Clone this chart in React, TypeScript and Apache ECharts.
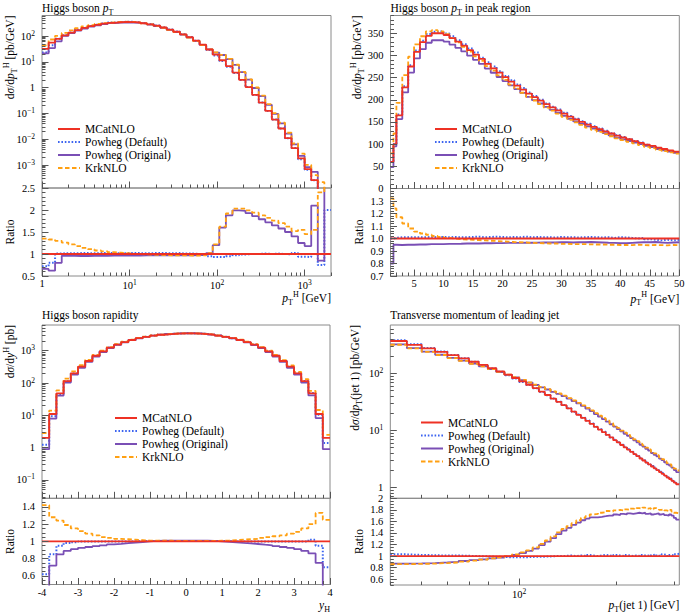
import React, { useEffect, useRef } from "react";
import * as echarts from "echarts";

const FONT = "'Liberation Serif', 'Times New Roman', serif";

// ---------- series identity ----------
const SERIES_NAMES = ["MCatNLO", "Powheg (Default)", "Powheg (Original)", "KrkNLO"];
const SERIES_COLORS = ["#ee3124", "#3c64f0", "#7a4fb5", "#ffa012"];

// ---------- Panel 1 : Higgs boson pT (log x) ----------
const P1_EDGES = [1, 1.19, 1.41, 1.68, 2, 2.37, 2.82, 3.35, 3.98, 4.73, 5.62, 6.68, 7.94, 9.44, 11.2, 13.3, 15.8, 18.8, 22.4, 26.6, 31.6, 37.6, 44.7, 53.1, 63.1, 75, 89.1, 106, 126, 150, 178, 211, 251, 299, 355, 422, 501, 596, 708, 841, 1000, 1189, 1413, 1679, 2000];
const P1_MCATNLO = [32, 55, 78, 105, 135, 170, 205, 240, 270, 300, 325, 342, 350, 346, 334, 312, 285, 252, 214, 178, 146, 116, 90, 66, 46, 30, 19, 11.5, 6.8, 3.8, 2.0, 1.05, 0.52, 0.26, 0.125, 0.058, 0.026, 0.011, 0.0045, 0.0018, 0.0007, 0.00026, 0.00009, 0.00003];
const P1_RATIO_DEFAULT = [0.72, 0.8, 1.01, 1.02, 1.015, 1.02, 1.02, 1.015, 1.02, 1.02, 1.02, 1.015, 1.02, 1.02, 1.02, 1.015, 1.02, 1.02, 1.02, 1.015, 1.02, 1.01, 1.01, 1.0, 0.98, 0.95, 0.93, 0.93, 0.95, 0.97, 0.99, 1.0, 1.0, 1.01, 1.0, 1.01, 1.0, 0.99, 1.02, 0.94, 0.93, 1.0, 0.75, 2.0];
const P1_RATIO_ORIGINAL = [0.66, 0.62, 0.8, 0.96, 0.96, 0.955, 0.955, 0.96, 0.96, 0.96, 0.965, 0.965, 0.965, 0.965, 0.965, 0.97, 0.97, 0.97, 0.97, 0.97, 0.97, 0.97, 0.97, 0.975, 0.98, 1.02, 1.2, 1.6, 1.88, 1.99, 1.98, 1.93, 1.86, 1.79, 1.72, 1.65, 1.58, 1.5, 1.4, 1.25, 1.18, 2.1, 0.85, 2.6];
const P1_RATIO_KRKNLO = [1.35, 1.33, 1.3, 1.26, 1.22, 1.18, 1.14, 1.11, 1.08, 1.06, 1.04, 1.03, 1.02, 1.01, 1.0, 0.99, 0.985, 0.98, 0.975, 0.97, 0.97, 0.97, 0.965, 0.965, 0.97, 1.02, 1.22, 1.62, 1.92, 2.03, 2.03, 1.99, 1.94, 1.88, 1.82, 1.76, 1.7, 1.62, 1.52, 1.55, 1.45, 1.55, 2.4, 2.6];
const P1_X_TICKS = [1, 10, 100, 1000];
const P1_Y_TICKS = [0.001, 0.01, 0.1, 1, 10, 100];
const P1_R_TICKS = [0.5, 1, 1.5, 2, 2.5];

// ---------- Panel 2 : Higgs boson pT, peak region ----------
const P2_EDGES = [1, 1.5, 2, 3, 4, 5, 6, 7, 8, 9, 10, 11, 12, 13, 14, 15, 16, 17, 18, 19, 20, 21, 22, 23, 24, 25, 26, 27, 28, 29, 30, 31, 32, 33, 34, 35, 36, 37, 38, 39, 40, 41, 42, 43, 44, 45, 46, 47, 48, 49, 50];
const P2_MCATNLO = [60, 100, 165, 228, 275, 308, 330, 344, 350, 350, 346, 339, 331, 322, 312, 302, 292, 281, 271, 261, 251, 241, 232, 223, 214, 206, 198, 190, 183, 176, 169, 162, 156, 150, 144, 139, 134, 129, 124, 119, 115, 111, 107, 103, 99, 96, 92, 89, 86, 83];
const P2_RATIO_DEFAULT = [1.0, 1.005, 1.01, 1.01, 1.01, 1.01, 1.01, 1.012, 1.01, 1.012, 1.01, 1.012, 1.01, 1.01, 1.012, 1.015, 1.01, 1.012, 1.015, 1.012, 1.01, 1.012, 1.01, 1.015, 1.01, 1.012, 1.01, 1.01, 1.008, 1.012, 1.01, 1.01, 1.008, 1.01, 1.012, 1.01, 1.008, 1.01, 1.005, 1.01, 1.008, 1.005, 1.0, 1.005, 0.995, 0.99, 0.985, 0.99, 0.985, 0.99];
const P2_RATIO_ORIGINAL = [0.8, 0.95, 0.948, 0.95, 0.95, 0.952, 0.952, 0.955, 0.955, 0.955, 0.957, 0.957, 0.958, 0.96, 0.96, 0.96, 0.962, 0.962, 0.963, 0.963, 0.965, 0.965, 0.965, 0.966, 0.966, 0.967, 0.968, 0.968, 0.968, 0.97, 0.97, 0.968, 0.97, 0.97, 0.972, 0.97, 0.968, 0.966, 0.965, 0.963, 0.962, 0.965, 0.968, 0.97, 0.97, 0.972, 0.968, 0.965, 0.968, 0.97];
const P2_RATIO_KRKNLO = [1.32, 1.24, 1.17, 1.12, 1.08, 1.055, 1.04, 1.03, 1.02, 1.012, 1.005, 1.0, 0.995, 0.992, 0.99, 0.987, 0.985, 0.982, 0.98, 0.977, 0.975, 0.972, 0.97, 0.968, 0.965, 0.963, 0.962, 0.96, 0.96, 0.958, 0.957, 0.956, 0.955, 0.955, 0.953, 0.952, 0.952, 0.95, 0.95, 0.948, 0.948, 0.947, 0.95, 0.948, 0.946, 0.948, 0.947, 0.945, 0.948, 0.946];
const P2_X_TICKS = [5, 10, 15, 20, 25, 30, 35, 40, 45, 50];
const P2_Y_TICKS = [0, 50, 100, 150, 200, 250, 300, 350];
const P2_R_TICKS = [0.7, 0.8, 0.9, 1.0, 1.1, 1.2, 1.3];

// ---------- Panel 3 : Higgs boson rapidity ----------
const P3_EDGES = [-4, -3.8, -3.6, -3.4, -3.2, -3, -2.8, -2.6, -2.4, -2.2, -2, -1.8, -1.6, -1.4, -1.2, -1, -0.8, -0.6, -0.4, -0.2, 0, 0.2, 0.4, 0.6, 0.8, 1, 1.2, 1.4, 1.6, 1.8, 2, 2.2, 2.4, 2.6, 2.8, 3, 3.2, 3.4, 3.6, 3.8, 4];
const P3_MCATNLO = [2.0, 11, 48, 115, 200, 320, 480, 700, 950, 1250, 1550, 1850, 2150, 2450, 2700, 2930, 3120, 3280, 3390, 3440, 3440, 3390, 3280, 3120, 2930, 2700, 2450, 2150, 1850, 1550, 1250, 950, 700, 480, 320, 200, 115, 48, 11, 2.0];
const P3_RATIO_DEFAULT = [0.62, 0.85, 0.95, 0.98, 0.99, 1.0, 1.0, 1.0, 1.0, 1.0, 1.0, 1.0, 1.0, 1.005, 1.005, 1.005, 1.005, 1.005, 1.005, 1.005, 1.005, 1.005, 1.005, 1.005, 1.005, 1.005, 1.0, 1.0, 1.0, 1.0, 1.0, 1.0, 1.0, 1.0, 1.0, 1.0, 1.0, 1.02, 0.95, 0.7];
const P3_RATIO_ORIGINAL = [0.45, 0.72, 0.85, 0.89, 0.91, 0.925, 0.935, 0.945, 0.955, 0.965, 0.972, 0.98, 0.987, 0.993, 1.0, 1.005, 1.008, 1.01, 1.01, 1.01, 1.01, 1.01, 1.008, 1.005, 1.0, 0.995, 0.99, 0.983, 0.977, 0.97, 0.962, 0.955, 0.945, 0.935, 0.925, 0.91, 0.89, 0.86, 0.75, 0.45];
const P3_RATIO_KRKNLO = [1.42, 1.28, 1.24, 1.19, 1.15, 1.12, 1.09, 1.07, 1.05, 1.04, 1.03, 1.025, 1.02, 1.015, 1.01, 1.01, 1.01, 1.008, 1.005, 1.005, 1.005, 1.005, 1.005, 1.005, 1.008, 1.01, 1.015, 1.02, 1.025, 1.03, 1.04, 1.05, 1.06, 1.07, 1.09, 1.11, 1.15, 1.2, 1.33, 1.25];
const P3_X_TICKS = [-4, -3, -2, -1, 0, 1, 2, 3, 4];
const P3_Y_TICKS = [0.1, 1, 10, 100, 1000];
const P3_R_TICKS = [0.6, 0.8, 1, 1.2, 1.4];

// ---------- Panel 4 : leading jet pT (log x) ----------
const P4_EDGES = [40, 45, 50, 55, 60, 65, 70, 75, 80, 85, 90, 95, 100, 105, 110, 115, 120, 125, 130, 135, 140, 145, 150, 155, 160, 165, 170, 175, 180, 185, 190, 195, 200, 205, 210, 215, 220, 225, 230, 235, 240, 245, 250, 255, 260, 265, 270, 275, 280, 285, 290, 295, 300, 305, 312];
const P4_MCATNLO = [367, 314, 272, 237, 207, 182, 159, 140, 123, 108, 94.4, 82.7, 72.1, 63.1, 55.2, 47.7, 41.7, 36.1, 31.7, 27.7, 24.3, 21.3, 18.8, 16.6, 14.7, 13.1, 11.6, 10.4, 9.35, 8.38, 7.57, 6.78, 6.18, 5.58, 5.09, 4.65, 4.24, 3.86, 3.56, 3.24, 2.99, 2.75, 2.55, 2.35, 2.18, 2.03, 1.88, 1.75, 1.63, 1.51, 1.42, 1.32, 1.23, 1.15];
const P4_RATIO_DEFAULT = [1.03, 1.02, 1.015, 1.01, 1.01, 1.005, 1.0, 0.995, 0.99, 0.985, 0.98, 0.98, 0.98, 0.985, 0.99, 0.99, 0.995, 1.0, 1.0, 1.005, 1.01, 1.0, 1.01, 1.005, 1.02, 1.01, 1.0, 1.01, 1.02, 1.01, 1.0, 1.02, 1.01, 1.005, 1.02, 1.01, 1.0, 1.01, 1.005, 1.02, 1.01, 1.01, 1.0, 1.02, 1.03, 1.005, 1.01, 1.03, 1.02, 1.0, 1.02, 1.01, 1.03, 1.04];
const P4_RATIO_ORIGINAL = [0.87, 0.875, 0.88, 0.89, 0.9, 0.915, 0.93, 0.945, 0.96, 0.975, 0.995, 1.02, 1.05, 1.09, 1.13, 1.19, 1.25, 1.31, 1.38, 1.44, 1.49, 1.54, 1.58, 1.62, 1.65, 1.67, 1.67, 1.68, 1.69, 1.7, 1.7, 1.72, 1.71, 1.73, 1.72, 1.74, 1.73, 1.74, 1.75, 1.74, 1.75, 1.73, 1.74, 1.72, 1.73, 1.74, 1.72, 1.73, 1.71, 1.7, 1.72, 1.7, 1.66, 1.63];
const P4_RATIO_KRKNLO = [0.86, 0.865, 0.87, 0.88, 0.89, 0.905, 0.92, 0.94, 0.96, 0.98, 1.0, 1.03, 1.065, 1.1, 1.15, 1.21, 1.27, 1.34, 1.41, 1.47, 1.52, 1.57, 1.62, 1.66, 1.69, 1.72, 1.73, 1.75, 1.76, 1.78, 1.77, 1.79, 1.8, 1.79, 1.81, 1.8, 1.82, 1.81, 1.83, 1.82, 1.84, 1.82, 1.83, 1.81, 1.83, 1.82, 1.8, 1.81, 1.79, 1.78, 1.8, 1.77, 1.75, 1.74];
const P4_X_TICKS = [100];
const P4_Y_TICKS = [1, 10, 100];
const P4_R_TICKS = [0.6, 0.8, 1, 1.2, 1.4, 1.6, 1.8, 2];

// ---------- helpers ----------
const TICK_COLOR = "#555";
const FRAME_COLOR = "#8a8a8a";
const lg = (v: number) => Math.log10(v);

function logMinors(lo: number, hi: number) {
  const out: number[] = [];
  for (let n = Math.floor(lo) - 1; n <= Math.ceil(hi); n++) {
    for (let k = 2; k <= 9; k++) {
      const v = n + Math.log10(k);
      if (v >= lo - 1e-9 && v <= hi + 1e-9) out.push(v);
    }
  }
  return out;
}
function linMinors(lo: number, hi: number, step: number) {
  const out: number[] = [];
  const k0 = Math.ceil(lo / step - 1e-9);
  for (let k = k0; k * step <= hi + 1e-9; k++) out.push(+(k * step).toFixed(6));
  return out;
}
const supNum = (n: number) => (n < 0 ? "\u2212" + -n : String(n));
const logFmt = (v: number) => {
  const n = Math.round(v);
  if (n === 0) return "1";
  return `{m|10}{e|${supNum(n)}}`;
};
const LABEL_RICH = {
  m: { fontFamily: FONT, fontSize: 10.5, lineHeight: 14, color: "#000" },
  e: { fontFamily: FONT, fontSize: 7.5, lineHeight: 8, verticalAlign: "top", color: "#000" },
};

function stepData(edges: number[], vals: number[], fx: (v: number) => number, fy: (v: number) => number) {
  const out = vals.map((v, i) => [fx(edges[i]), fy(v)]);
  out.push([fx(edges[edges.length - 1]), fy(vals[vals.length - 1])]);
  return out;
}

const PANELS = [
  {
    edges: P1_EDGES, ref: P1_MCATNLO, ratios: [P1_RATIO_DEFAULT, P1_RATIO_ORIGINAL, P1_RATIO_KRKNLO],
    xLog: true, yLog: true,
    box: { left: 42, right: 331, top: 15.5, mid: 188, bottom: 276 },
    x: [lg(1), lg(2000)], y: [-3.89, 2.795], r: [0.5, 2.5],
    xTicks: P1_X_TICKS, yTicks: P1_Y_TICKS, rTicks: P1_R_TICKS,
    xStep: 0, yStep: 0, rStep: 0.1,
    xFmt: logFmt, yFmt: logFmt, rFmt: (v: number) => String(+v.toFixed(2)),
    legend: { left: 57, top: 122.5 },
  },
  {
    edges: P2_EDGES, ref: P2_MCATNLO, ratios: [P2_RATIO_DEFAULT, P2_RATIO_ORIGINAL, P2_RATIO_KRKNLO],
    xLog: false, yLog: false,
    box: { left: 390.5, right: 679.3, top: 15.5, mid: 188.5, bottom: 276 },
    x: [1, 50], y: [0, 390], r: [0.7, 1.4],
    xTicks: P2_X_TICKS, yTicks: P2_Y_TICKS, rTicks: P2_R_TICKS,
    xStep: 1, yStep: 10, rStep: 0.02,
    xFmt: (v: number) => String(v), yFmt: (v: number) => String(v), rFmt: (v: number) => v.toFixed(1),
    legend: { left: 434, top: 122.5 },
  },
  {
    edges: P3_EDGES, ref: P3_MCATNLO, ratios: [P3_RATIO_DEFAULT, P3_RATIO_ORIGINAL, P3_RATIO_KRKNLO],
    xLog: false, yLog: true,
    box: { left: 42, right: 330, top: 325, mid: 498.3, bottom: 584.5 },
    x: [-4, 4], y: [-1.567, 3.796], r: [0.5, 1.5],
    xTicks: P3_X_TICKS, yTicks: P3_Y_TICKS, rTicks: P3_R_TICKS,
    xStep: 0.2, yStep: 0, rStep: 0.05,
    xFmt: (v: number) => String(Math.round(v)), yFmt: logFmt, rFmt: (v: number) => String(+v.toFixed(2)),
    legend: { left: 114, top: 411.5 },
  },
  {
    edges: P4_EDGES, ref: P4_MCATNLO, ratios: [P4_RATIO_DEFAULT, P4_RATIO_ORIGINAL, P4_RATIO_KRKNLO],
    xLog: true, yLog: true,
    box: { left: 390.3, right: 679.3, top: 325, mid: 498.3, bottom: 585 },
    x: [lg(40), lg(312)], y: [-0.185, 2.844], r: [0.5, 2.0],
    xTicks: P4_X_TICKS, yTicks: P4_Y_TICKS, rTicks: P4_R_TICKS,
    xStep: 0, yStep: 0, rStep: 0.05,
    xFmt: logFmt, yFmt: logFmt, rFmt: (v: number) => String(+v.toFixed(2)),
    legend: { left: 420, top: 416 },
  },
];

function addAxis(list: any[], gridIndex: number, dim: "x" | "y", range: number[], major: number[], minor: number[], fmt: any) {
  const common = {
    type: "value", gridIndex, min: range[0], max: range[1],
    position: dim === "x" ? "bottom" : "left", offset: 0,
    axisLine: { show: false, onZero: false },
    splitLine: { show: false }, minorTick: { show: false }, minorSplitLine: { show: false },
    silent: true, z: 5,
  };
  const idx = list.length;
  list.push({
    ...common,
    axisTick: { show: true, inside: true, length: 6.5, customValues: major, lineStyle: { color: TICK_COLOR, width: 1 } },
    axisLabel: fmt
      ? { show: true, customValues: major, formatter: fmt, margin: dim === "x" ? 2 : 7, fontFamily: FONT, fontSize: 10.5, color: "#000", rich: LABEL_RICH }
      : { show: false },
  });
  list.push({
    ...common,
    axisTick: { show: true, inside: true, length: 3.5, customValues: minor, lineStyle: { color: TICK_COLOR, width: 1 } },
    axisLabel: { show: false },
  });
  return idx;
}

const TEXT_RICH = (size: number) => ({
  i: { fontFamily: FONT, fontSize: size, fontStyle: "italic", lineHeight: 16, fill: "#000" },
  sub: { fontFamily: FONT, fontSize: size * 0.7, lineHeight: 9, verticalAlign: "bottom", fill: "#000" },
  sup: { fontFamily: FONT, fontSize: size * 0.7, lineHeight: 9, verticalAlign: "top", fill: "#000" },
});
function txt(x: number, y: number, text: string, align = "left", rot = 0, size = 11.5) {
  return {
    type: "text", x, y, rotation: rot, silent: true,
    style: { text, fontFamily: FONT, fontSize: size, fill: "#000", align, verticalAlign: "middle", lineHeight: 16, rich: TEXT_RICH(size) },
  };
}

function buildOption() {
  const grids: any[] = [];
  const xAxes: any[] = [];
  const yAxes: any[] = [];
  const series: any[] = [];
  const legends: any[] = [];
  const drawOrder = [1, 2, 3, 0];

  PANELS.forEach((p) => {
    const w = p.box.right - p.box.left;
    const gridStyle = { show: true, borderColor: FRAME_COLOR, borderWidth: 1, backgroundColor: "transparent", containLabel: false, outerBoundsMode: "none" };
    const gMain = grids.length;
    grids.push({ left: p.box.left, top: p.box.top, width: w, height: p.box.mid - p.box.top, ...gridStyle });
    const gRatio = grids.length;
    grids.push({ left: p.box.left, top: p.box.mid, width: w, height: p.box.bottom - p.box.mid, ...gridStyle });

    const fx = (v: number) => (p.xLog ? lg(v) : v);
    const fy = (v: number) => (p.yLog ? lg(v) : v);
    const xMajor = p.xTicks.map(fx);
    const xMinor = p.xLog ? logMinors(p.x[0], p.x[1]) : linMinors(p.x[0], p.x[1], p.xStep);
    const yMajor = p.yTicks.map(fy);
    const yMinor = p.yLog ? logMinors(p.y[0], p.y[1]) : linMinors(p.y[0], p.y[1], p.yStep);
    const rMinor = linMinors(p.r[0], p.r[1], p.rStep);

    const xm = addAxis(xAxes, gMain, "x", p.x, xMajor, xMinor, null);
    const xr = addAxis(xAxes, gRatio, "x", p.x, xMajor, xMinor, p.xFmt);
    const ym = addAxis(yAxes, gMain, "y", p.y, yMajor, yMinor, p.yFmt);
    const yr = addAxis(yAxes, gRatio, "y", p.r, p.rTicks, rMinor, p.rFmt);

    const ratioSets = [p.ref.map((v) => v / v), ...p.ratios];
    const mainSets = ratioSets.map((r) => r.map((v, i) => v * p.ref[i]));

    drawOrder.forEach((s) => {
      const style = {
        color: SERIES_COLORS[s],
        width: s === 1 ? 2 : 1.8,
        type: s === 1 ? [1.6, 1.8] : s === 3 ? [4.5, 2.5] : "solid",
      };
      const common = {
        type: "line", name: SERIES_NAMES[s], step: "end", symbol: "none", showSymbol: false,
        color: SERIES_COLORS[s], lineStyle: style, itemStyle: { color: SERIES_COLORS[s] },
        silent: true, clip: true, animation: false, emphasis: { disabled: true },
      };
      series.push({ ...common, xAxisIndex: xm, yAxisIndex: ym, data: stepData(p.edges, mainSets[s], fx, fy) });
      series.push({ ...common, xAxisIndex: xr, yAxisIndex: yr, data: stepData(p.edges, ratioSets[s], fx, (v) => v) });
    });

    legends.push({
      orient: "vertical", left: p.legend.left, top: p.legend.top, padding: 0,
      itemWidth: 22, itemHeight: 10, itemGap: 0, selectedMode: false,
      data: SERIES_NAMES,
      itemStyle: { opacity: 0, borderWidth: 0 },
      textStyle: { fontFamily: FONT, fontSize: 11.5, color: "#000", lineHeight: 13 },
    });
  });

  const R = Math.PI / 2;
  const graphic = [
    txt(42, 8, "Higgs boson {i|p}{sub|T}"),
    txt(390.5, 8, "Higgs boson {i|p}{sub|T} in peak region"),
    txt(42, 315, "Higgs boson rapidity"),
    txt(390.3, 315, "Transverse momentum of leading jet"),
    txt(10, 15.5, "d{i|σ}/d{i|p}{sub|T}{sup|H} [pb/GeV]", "right", R),
    txt(357, 15.5, "d{i|σ}/d{i|p}{sub|T}{sup|H} [pb/GeV]", "right", R),
    txt(10, 325, "d{i|σ}/d{i|y}{sup|H} [pb]", "right", R),
    txt(355, 325, "d{i|σ}/d{i|p}{sub|T}(jet 1) [pb/GeV]", "right", R),
    txt(10, 232, "Ratio", "center", R),
    txt(359, 232, "Ratio", "center", R),
    txt(10, 541.5, "Ratio", "center", R),
    txt(359, 541.5, "Ratio", "center", R),
    txt(331, 298, "{i|p}{sub|T}{sup|H} [GeV]", "right"),
    txt(679.3, 298.5, "{i|p}{sub|T}{sup|H} [GeV]", "right"),
    txt(330, 605, "{i|y}{sub|H}", "right"),
    txt(679.3, 605, "{i|p}{sub|T}(jet 1) [GeV]", "right"),
  ];

  return {
    animation: false,
    backgroundColor: "#fff",
    grid: grids,
    xAxis: xAxes,
    yAxis: yAxes,
    legend: legends,
    series,
    graphic,
  };
}

export default function App() {
  const ref = useRef<HTMLDivElement>(null);
  useEffect(() => {
    document.body.style.margin = "0";
    const chart = echarts.init(ref.current as HTMLDivElement, null, { renderer: "svg" });
    chart.setOption(buildOption() as any);
    return () => chart.dispose();
  }, []);
  return <div ref={ref} style={{ width: 685, height: 612, background: "#fff" }} />;
}
